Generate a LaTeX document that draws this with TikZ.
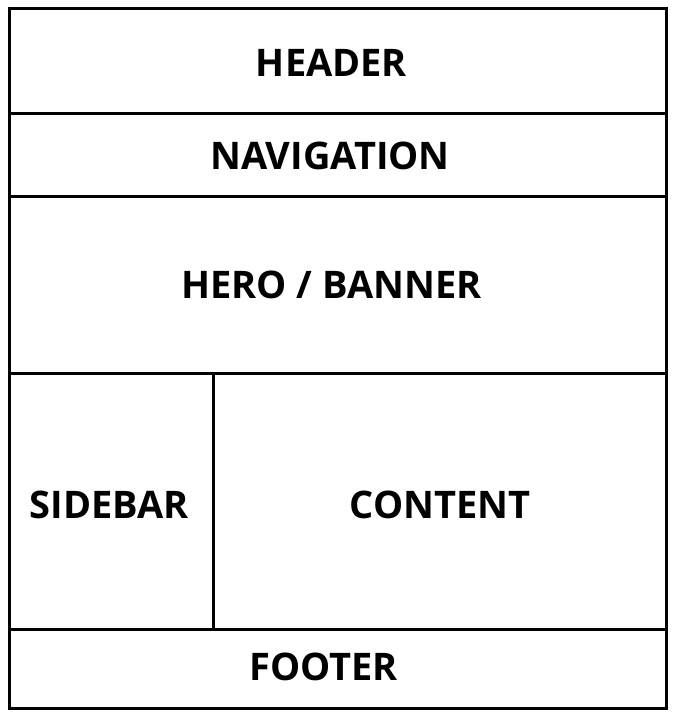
\documentclass[tikz,border=0pt]{standalone}
\usepackage{fontspec}
\setmainfont{Open Sans}
\begin{document}
\begin{tikzpicture}[x=1pt,y=-1pt,
  region/.style={draw=black,line width=3pt,inner sep=0pt,outer sep=0pt},
  lbl/.style={font=\fontsize{38}{44}\selectfont\bfseries,inner sep=0pt}]
\useasboundingbox (0,0) rectangle (674,715);
\fill[white] (0,0) rectangle (674,715);
% regions
\node[region,minimum width=657pt,minimum height=105pt,anchor=north west] (header) at (9,8) {};
\node[region,minimum width=657pt,minimum height=83pt,anchor=north west] (nav) at (9,113) {};
\node[region,minimum width=657pt,minimum height=177pt,anchor=north west] (hero) at (9,196) {};
\node[region,minimum width=204pt,minimum height=256pt,anchor=north west] (side) at (9,373) {};
\node[region,minimum width=453pt,minimum height=256pt,anchor=north west] (content) at (213,373) {};
\node[region,minimum width=657pt,minimum height=79pt,anchor=north west] (footer) at (9,629) {};
% labels
\node[lbl] (tHeader) at (331.5,62.5) {HEADER};
\node[lbl] (tNav) at (330,156) {NAVIGATION};
\node[lbl] (tHero) at (331.5,285) {HERO / BANNER};
\node[lbl] (tSide) at (109,504.5) {SIDEBAR};
\node[lbl] (tContent) at (440,505) {CONTENT};
\node[lbl] (tFooter) at (323.5,667) {FOOTER};
\end{tikzpicture}
\end{document}
